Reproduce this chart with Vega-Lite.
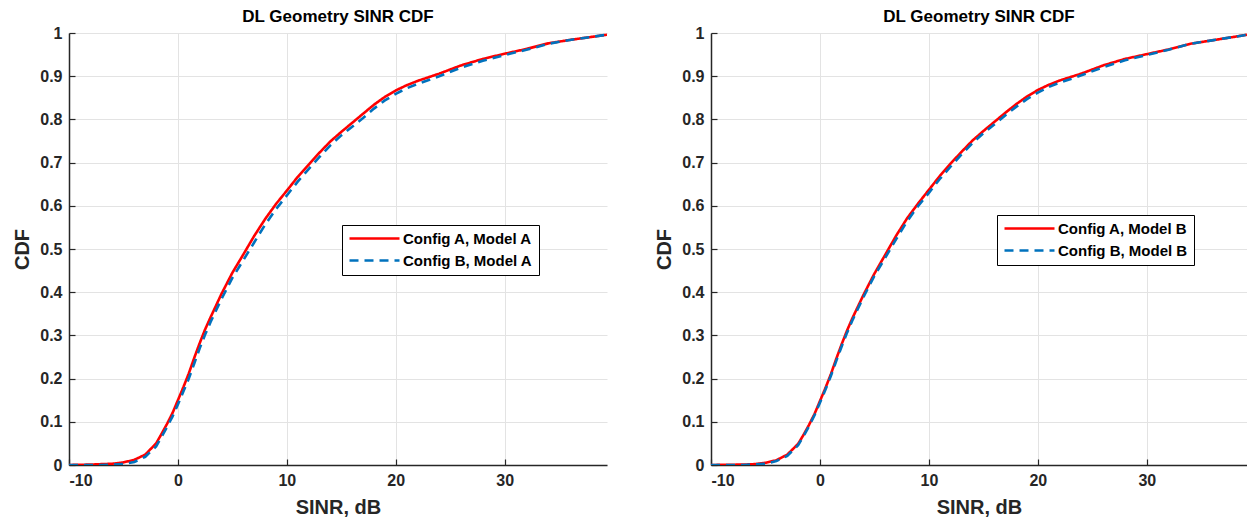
{
  "$schema": "https://vega.github.io/schema/vega-lite/v6.json",
  "background": "white",
  "padding": {"left": 12, "top": 8, "right": 0, "bottom": 0},
  "spacing": 47,
  "config": {
    "font": "Liberation Sans",
    "view": {"stroke": null},
    "title": {"font": "Liberation Sans", "fontSize": 17, "fontWeight": "bold", "color": "#000000", "offset": -1, "anchor": "middle"},
    "axis": {
      "labelFont": "Liberation Sans", "labelFontWeight": "bold", "labelFontSize": 16, "labelColor": "#262626",
      "titleFont": "Liberation Sans", "titleFontWeight": "bold", "titleFontSize": 20, "titleColor": "#262626",
      "domainColor": "#262626", "domainWidth": 1.5, "tickColor": "#262626", "tickWidth": 1.2, "tickSize": -6,
      "gridColor": "#e3e3e3", "gridWidth": 1
    },
    "legend": {
      "labelFont": "Liberation Sans", "labelFontWeight": "bold", "labelFontSize": 15, "labelColor": "#000000",
      "strokeColor": "#000000", "fillColor": "#ffffff", "padding": 6, "symbolType": "M-5,0H5",
      "symbolSize": 100, "symbolStrokeWidth": 2.6, "symbolOffset": 19, "labelOffset": 21, "rowPadding": 6
    }
  },
  "datasets": {
    "left": [
      {"series": "Config A, Model A", "sinr": -10, "cdf": 0},
      {"series": "Config A, Model A", "sinr": -8, "cdf": 0.001},
      {"series": "Config A, Model A", "sinr": -7, "cdf": 0.002},
      {"series": "Config A, Model A", "sinr": -6, "cdf": 0.003},
      {"series": "Config A, Model A", "sinr": -5, "cdf": 0.006},
      {"series": "Config A, Model A", "sinr": -4, "cdf": 0.012},
      {"series": "Config A, Model A", "sinr": -3, "cdf": 0.024},
      {"series": "Config A, Model A", "sinr": -2, "cdf": 0.05},
      {"series": "Config A, Model A", "sinr": -1.5, "cdf": 0.072},
      {"series": "Config A, Model A", "sinr": -1, "cdf": 0.095},
      {"series": "Config A, Model A", "sinr": -0.5, "cdf": 0.12},
      {"series": "Config A, Model A", "sinr": 0, "cdf": 0.15},
      {"series": "Config A, Model A", "sinr": 0.5, "cdf": 0.18},
      {"series": "Config A, Model A", "sinr": 1, "cdf": 0.212},
      {"series": "Config A, Model A", "sinr": 1.5, "cdf": 0.248},
      {"series": "Config A, Model A", "sinr": 2, "cdf": 0.282},
      {"series": "Config A, Model A", "sinr": 2.5, "cdf": 0.314},
      {"series": "Config A, Model A", "sinr": 3, "cdf": 0.342},
      {"series": "Config A, Model A", "sinr": 4, "cdf": 0.396},
      {"series": "Config A, Model A", "sinr": 5, "cdf": 0.445},
      {"series": "Config A, Model A", "sinr": 6, "cdf": 0.487},
      {"series": "Config A, Model A", "sinr": 7, "cdf": 0.53},
      {"series": "Config A, Model A", "sinr": 8, "cdf": 0.569},
      {"series": "Config A, Model A", "sinr": 9, "cdf": 0.604},
      {"series": "Config A, Model A", "sinr": 10, "cdf": 0.635},
      {"series": "Config A, Model A", "sinr": 11, "cdf": 0.667},
      {"series": "Config A, Model A", "sinr": 12, "cdf": 0.695},
      {"series": "Config A, Model A", "sinr": 13, "cdf": 0.723},
      {"series": "Config A, Model A", "sinr": 14, "cdf": 0.749},
      {"series": "Config A, Model A", "sinr": 15, "cdf": 0.771},
      {"series": "Config A, Model A", "sinr": 16, "cdf": 0.792},
      {"series": "Config A, Model A", "sinr": 17, "cdf": 0.813},
      {"series": "Config A, Model A", "sinr": 18, "cdf": 0.834},
      {"series": "Config A, Model A", "sinr": 19, "cdf": 0.852},
      {"series": "Config A, Model A", "sinr": 20, "cdf": 0.867},
      {"series": "Config A, Model A", "sinr": 21, "cdf": 0.879},
      {"series": "Config A, Model A", "sinr": 22, "cdf": 0.889},
      {"series": "Config A, Model A", "sinr": 24, "cdf": 0.906},
      {"series": "Config A, Model A", "sinr": 26, "cdf": 0.925},
      {"series": "Config A, Model A", "sinr": 28, "cdf": 0.94},
      {"series": "Config A, Model A", "sinr": 30, "cdf": 0.952},
      {"series": "Config A, Model A", "sinr": 32, "cdf": 0.963},
      {"series": "Config A, Model A", "sinr": 34, "cdf": 0.976},
      {"series": "Config A, Model A", "sinr": 36, "cdf": 0.984},
      {"series": "Config A, Model A", "sinr": 38, "cdf": 0.991},
      {"series": "Config A, Model A", "sinr": 39.4, "cdf": 0.996},
      {"series": "Config B, Model A", "sinr": -10, "cdf": 0},
      {"series": "Config B, Model A", "sinr": -7, "cdf": 0},
      {"series": "Config B, Model A", "sinr": -5, "cdf": 0.002},
      {"series": "Config B, Model A", "sinr": -4, "cdf": 0.007},
      {"series": "Config B, Model A", "sinr": -3, "cdf": 0.019},
      {"series": "Config B, Model A", "sinr": -2, "cdf": 0.043},
      {"series": "Config B, Model A", "sinr": -1.5, "cdf": 0.065},
      {"series": "Config B, Model A", "sinr": -1, "cdf": 0.088},
      {"series": "Config B, Model A", "sinr": -0.5, "cdf": 0.112},
      {"series": "Config B, Model A", "sinr": 0, "cdf": 0.14},
      {"series": "Config B, Model A", "sinr": 0.5, "cdf": 0.17},
      {"series": "Config B, Model A", "sinr": 1, "cdf": 0.2},
      {"series": "Config B, Model A", "sinr": 1.5, "cdf": 0.235},
      {"series": "Config B, Model A", "sinr": 2, "cdf": 0.27},
      {"series": "Config B, Model A", "sinr": 2.5, "cdf": 0.302},
      {"series": "Config B, Model A", "sinr": 3, "cdf": 0.331},
      {"series": "Config B, Model A", "sinr": 4, "cdf": 0.384},
      {"series": "Config B, Model A", "sinr": 5, "cdf": 0.433},
      {"series": "Config B, Model A", "sinr": 6, "cdf": 0.474},
      {"series": "Config B, Model A", "sinr": 7, "cdf": 0.515},
      {"series": "Config B, Model A", "sinr": 8, "cdf": 0.556},
      {"series": "Config B, Model A", "sinr": 9, "cdf": 0.592},
      {"series": "Config B, Model A", "sinr": 10, "cdf": 0.624},
      {"series": "Config B, Model A", "sinr": 11, "cdf": 0.656},
      {"series": "Config B, Model A", "sinr": 12, "cdf": 0.685},
      {"series": "Config B, Model A", "sinr": 13, "cdf": 0.713},
      {"series": "Config B, Model A", "sinr": 14, "cdf": 0.74},
      {"series": "Config B, Model A", "sinr": 15, "cdf": 0.763},
      {"series": "Config B, Model A", "sinr": 16, "cdf": 0.783},
      {"series": "Config B, Model A", "sinr": 17, "cdf": 0.803},
      {"series": "Config B, Model A", "sinr": 18, "cdf": 0.825},
      {"series": "Config B, Model A", "sinr": 19, "cdf": 0.844},
      {"series": "Config B, Model A", "sinr": 20, "cdf": 0.859},
      {"series": "Config B, Model A", "sinr": 21, "cdf": 0.872},
      {"series": "Config B, Model A", "sinr": 22, "cdf": 0.882},
      {"series": "Config B, Model A", "sinr": 24, "cdf": 0.9},
      {"series": "Config B, Model A", "sinr": 26, "cdf": 0.92},
      {"series": "Config B, Model A", "sinr": 28, "cdf": 0.936},
      {"series": "Config B, Model A", "sinr": 30, "cdf": 0.949},
      {"series": "Config B, Model A", "sinr": 32, "cdf": 0.961},
      {"series": "Config B, Model A", "sinr": 34, "cdf": 0.975},
      {"series": "Config B, Model A", "sinr": 36, "cdf": 0.984},
      {"series": "Config B, Model A", "sinr": 38, "cdf": 0.991},
      {"series": "Config B, Model A", "sinr": 39.4, "cdf": 0.996}
    ],
    "right": [
      {"series": "Config A, Model B", "sinr": -10, "cdf": 0},
      {"series": "Config A, Model B", "sinr": -7, "cdf": 0.001},
      {"series": "Config A, Model B", "sinr": -6, "cdf": 0.002},
      {"series": "Config A, Model B", "sinr": -5, "cdf": 0.005},
      {"series": "Config A, Model B", "sinr": -4, "cdf": 0.011},
      {"series": "Config A, Model B", "sinr": -3, "cdf": 0.024},
      {"series": "Config A, Model B", "sinr": -2, "cdf": 0.049},
      {"series": "Config A, Model B", "sinr": -1.5, "cdf": 0.07},
      {"series": "Config A, Model B", "sinr": -1, "cdf": 0.093},
      {"series": "Config A, Model B", "sinr": -0.5, "cdf": 0.118},
      {"series": "Config A, Model B", "sinr": 0, "cdf": 0.148},
      {"series": "Config A, Model B", "sinr": 0.5, "cdf": 0.178},
      {"series": "Config A, Model B", "sinr": 1, "cdf": 0.21},
      {"series": "Config A, Model B", "sinr": 1.5, "cdf": 0.246},
      {"series": "Config A, Model B", "sinr": 2, "cdf": 0.28},
      {"series": "Config A, Model B", "sinr": 2.5, "cdf": 0.312},
      {"series": "Config A, Model B", "sinr": 3, "cdf": 0.341},
      {"series": "Config A, Model B", "sinr": 4, "cdf": 0.394},
      {"series": "Config A, Model B", "sinr": 5, "cdf": 0.443},
      {"series": "Config A, Model B", "sinr": 6, "cdf": 0.487},
      {"series": "Config A, Model B", "sinr": 7, "cdf": 0.531},
      {"series": "Config A, Model B", "sinr": 8, "cdf": 0.571},
      {"series": "Config A, Model B", "sinr": 9, "cdf": 0.605},
      {"series": "Config A, Model B", "sinr": 10, "cdf": 0.637},
      {"series": "Config A, Model B", "sinr": 11, "cdf": 0.669},
      {"series": "Config A, Model B", "sinr": 12, "cdf": 0.698},
      {"series": "Config A, Model B", "sinr": 13, "cdf": 0.725},
      {"series": "Config A, Model B", "sinr": 14, "cdf": 0.751},
      {"series": "Config A, Model B", "sinr": 15, "cdf": 0.773},
      {"series": "Config A, Model B", "sinr": 16, "cdf": 0.794},
      {"series": "Config A, Model B", "sinr": 17, "cdf": 0.815},
      {"series": "Config A, Model B", "sinr": 18, "cdf": 0.835},
      {"series": "Config A, Model B", "sinr": 19, "cdf": 0.853},
      {"series": "Config A, Model B", "sinr": 20, "cdf": 0.868},
      {"series": "Config A, Model B", "sinr": 21, "cdf": 0.88},
      {"series": "Config A, Model B", "sinr": 22, "cdf": 0.89},
      {"series": "Config A, Model B", "sinr": 24, "cdf": 0.906},
      {"series": "Config A, Model B", "sinr": 26, "cdf": 0.925},
      {"series": "Config A, Model B", "sinr": 28, "cdf": 0.94},
      {"series": "Config A, Model B", "sinr": 30, "cdf": 0.951},
      {"series": "Config A, Model B", "sinr": 32, "cdf": 0.962},
      {"series": "Config A, Model B", "sinr": 34, "cdf": 0.975},
      {"series": "Config A, Model B", "sinr": 36, "cdf": 0.983},
      {"series": "Config A, Model B", "sinr": 38, "cdf": 0.991},
      {"series": "Config A, Model B", "sinr": 39.2, "cdf": 0.996},
      {"series": "Config B, Model B", "sinr": -10, "cdf": 0},
      {"series": "Config B, Model B", "sinr": -7, "cdf": 0},
      {"series": "Config B, Model B", "sinr": -5, "cdf": 0.003},
      {"series": "Config B, Model B", "sinr": -4, "cdf": 0.009},
      {"series": "Config B, Model B", "sinr": -3, "cdf": 0.021},
      {"series": "Config B, Model B", "sinr": -2, "cdf": 0.046},
      {"series": "Config B, Model B", "sinr": -1.5, "cdf": 0.067},
      {"series": "Config B, Model B", "sinr": -1, "cdf": 0.09},
      {"series": "Config B, Model B", "sinr": -0.5, "cdf": 0.115},
      {"series": "Config B, Model B", "sinr": 0, "cdf": 0.144},
      {"series": "Config B, Model B", "sinr": 0.5, "cdf": 0.174},
      {"series": "Config B, Model B", "sinr": 1, "cdf": 0.206},
      {"series": "Config B, Model B", "sinr": 1.5, "cdf": 0.241},
      {"series": "Config B, Model B", "sinr": 2, "cdf": 0.275},
      {"series": "Config B, Model B", "sinr": 2.5, "cdf": 0.307},
      {"series": "Config B, Model B", "sinr": 3, "cdf": 0.336},
      {"series": "Config B, Model B", "sinr": 4, "cdf": 0.389},
      {"series": "Config B, Model B", "sinr": 5, "cdf": 0.438},
      {"series": "Config B, Model B", "sinr": 6, "cdf": 0.48},
      {"series": "Config B, Model B", "sinr": 7, "cdf": 0.523},
      {"series": "Config B, Model B", "sinr": 8, "cdf": 0.564},
      {"series": "Config B, Model B", "sinr": 9, "cdf": 0.599},
      {"series": "Config B, Model B", "sinr": 10, "cdf": 0.63},
      {"series": "Config B, Model B", "sinr": 11, "cdf": 0.662},
      {"series": "Config B, Model B", "sinr": 12, "cdf": 0.691},
      {"series": "Config B, Model B", "sinr": 13, "cdf": 0.719},
      {"series": "Config B, Model B", "sinr": 14, "cdf": 0.745},
      {"series": "Config B, Model B", "sinr": 15, "cdf": 0.768},
      {"series": "Config B, Model B", "sinr": 16, "cdf": 0.788},
      {"series": "Config B, Model B", "sinr": 17, "cdf": 0.809},
      {"series": "Config B, Model B", "sinr": 18, "cdf": 0.829},
      {"series": "Config B, Model B", "sinr": 19, "cdf": 0.847},
      {"series": "Config B, Model B", "sinr": 20, "cdf": 0.862},
      {"series": "Config B, Model B", "sinr": 21, "cdf": 0.875},
      {"series": "Config B, Model B", "sinr": 22, "cdf": 0.885},
      {"series": "Config B, Model B", "sinr": 24, "cdf": 0.902},
      {"series": "Config B, Model B", "sinr": 26, "cdf": 0.921},
      {"series": "Config B, Model B", "sinr": 28, "cdf": 0.937},
      {"series": "Config B, Model B", "sinr": 30, "cdf": 0.949},
      {"series": "Config B, Model B", "sinr": 32, "cdf": 0.961},
      {"series": "Config B, Model B", "sinr": 34, "cdf": 0.975},
      {"series": "Config B, Model B", "sinr": 36, "cdf": 0.983},
      {"series": "Config B, Model B", "sinr": 38, "cdf": 0.991},
      {"series": "Config B, Model B", "sinr": 39.2, "cdf": 0.996}
    ]
  },
  "resolve": {"scale": {"color": "independent", "strokeDash": "independent"}, "legend": {"color": "independent", "strokeDash": "independent"}},
  "hconcat": [
    {
      "width": 538, "height": 432,
      "title": "DL Geometry SINR CDF",
      "data": {"name": "left"},
      "mark": {"type": "line", "strokeWidth": 2.6, "clip": true},
      "encoding": {
        "x": {"field": "sinr", "type": "quantitative", "scale": {"domain": [-10, 39.4], "nice": false, "zero": false},
              "axis": {"values": [-10, 0, 10, 20, 30], "labelExpr": "'' + datum.value", "labelFontSize": 16, "labelFontWeight": "bold", "title": "SINR, dB", "labelPadding": 13, "titlePadding": 9}},
        "y": {"field": "cdf", "type": "quantitative", "scale": {"domain": [0, 1], "nice": false},
              "axis": {"values": [0, 0.1, 0.2, 0.3, 0.4, 0.5, 0.6, 0.7, 0.8, 0.9, 1], "labelExpr": "'' + datum.value", "labelFontSize": 16, "labelFontWeight": "bold", "title": "CDF", "labelPadding": 13, "titlePadding": 7}},
        "color": {"field": "series", "type": "nominal",
                  "scale": {"domain": ["Config A, Model A", "Config B, Model A"], "range": ["#FF0000", "#0072BD"]},
                  "legend": {"title": null, "orient": "none", "legendX": 273, "legendY": 192}},
        "strokeDash": {"field": "series", "type": "nominal",
                  "scale": {"domain": ["Config A, Model A", "Config B, Model A"], "range": [[1, 0], [9, 6]]},
                  "legend": {"title": null, "orient": "none", "legendX": 273, "legendY": 192}}
      }
    },
    {
      "width": 536, "height": 432,
      "title": "DL Geometry SINR CDF",
      "data": {"name": "right"},
      "mark": {"type": "line", "strokeWidth": 2.6, "clip": true},
      "encoding": {
        "x": {"field": "sinr", "type": "quantitative", "scale": {"domain": [-10, 39.2], "nice": false, "zero": false},
              "axis": {"values": [-10, 0, 10, 20, 30], "labelExpr": "'' + datum.value", "labelFontSize": 16, "labelFontWeight": "bold", "title": "SINR, dB", "labelPadding": 13, "titlePadding": 9}},
        "y": {"field": "cdf", "type": "quantitative", "scale": {"domain": [0, 1], "nice": false},
              "axis": {"values": [0, 0.1, 0.2, 0.3, 0.4, 0.5, 0.6, 0.7, 0.8, 0.9, 1], "labelExpr": "'' + datum.value", "labelFontSize": 16, "labelFontWeight": "bold", "title": "CDF", "labelPadding": 13, "titlePadding": 7}},
        "color": {"field": "series", "type": "nominal",
                  "scale": {"domain": ["Config A, Model B", "Config B, Model B"], "range": ["#FF0000", "#0072BD"]},
                  "legend": {"title": null, "orient": "none", "legendX": 286, "legendY": 182}},
        "strokeDash": {"field": "series", "type": "nominal",
                  "scale": {"domain": ["Config A, Model B", "Config B, Model B"], "range": [[1, 0], [9, 6]]},
                  "legend": {"title": null, "orient": "none", "legendX": 286, "legendY": 182}}
      }
    }
  ]
}
